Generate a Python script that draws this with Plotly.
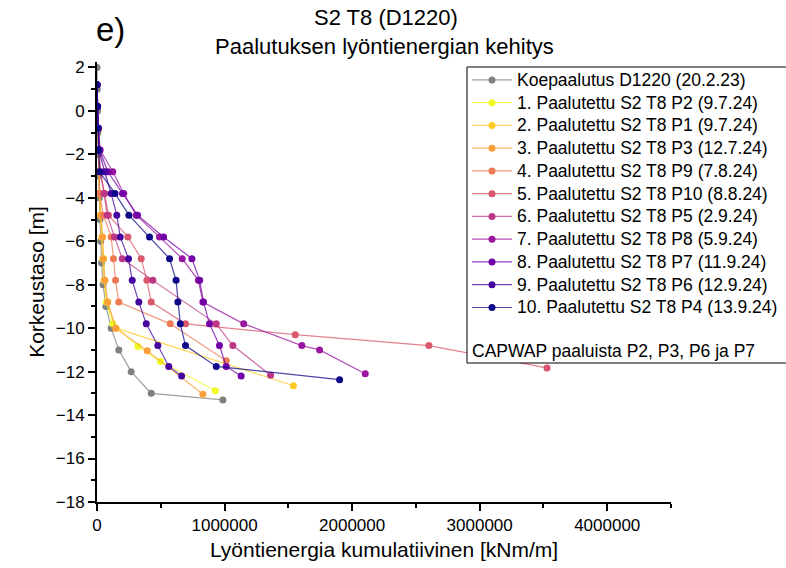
import plotly.graph_objects as go

# ---------------- data (energy in kNm/m, depth in m) ----------------
names = [
    "Koepaalutus D1220 (20.2.23)",
    "1. Paalutettu S2 T8 P2 (9.7.24)",
    "2. Paalutettu S2 T8 P1 (9.7.24)",
    "3. Paalutettu S2 T8 P3 (12.7.24)",
    "4. Paalutettu S2 T8 P9 (7.8.24)",
    "5. Paalutettu S2 T8 P10 (8.8.24)",
    "6. Paalutettu S2 T8 P5 (2.9.24)",
    "7. Paalutettu S2 T8 P8 (5.9.24)",
    "8. Paalutettu S2 T8 P7 (11.9.24)",
    "9. Paalutettu S2 T8 P6 (12.9.24)",
    "10. Paalutettu S2 T8 P4 (13.9.24)",
]
colors = ["#808080", "#f0f921", "#fcca27", "#fa9f3a", "#ed7a52", "#d9586b",
          "#bc3686", "#9b169f", "#7201a8", "#4603a0", "#0d0887"]

koe_depth = [2, 1, 0, -1, -2, -3, -4, -5, -6, -7, -8, -9, -10, -11, -12, -13, -13.3]
koe_energy = [0, 2000, 4000, 7000, 10000, 14000, 18000, 23000, 29000, 36000, 48000, 70000,
              111000, 171000, 268000, 425000, 987000]

p2_depth = [1.2, 0.2, -0.8, -1.8, -2.8, -3.8, -4.8, -5.8, -6.8, -7.8, -8.8, -9.8, -10.84, -11.53, -12.88]
p2_energy = [0, 3000, 6000, 10000, 15000, 20000, 28000, 42000, 52000, 60000, 72000, 124000,
             321000, 498000, 927000]

p1_depth = [1.2, 0.2, -0.8, -1.8, -2.8, -3.8, -4.8, -5.8, -6.8, -7.8, -8.8, -10.0, -12.65]
p1_energy = [0, 3000, 6000, 10000, 14000, 20000, 26000, 38000, 45000, 55000, 80000, 150000, 1540000]

p3_depth = [1.2, 0.2, -0.8, -1.8, -2.8, -3.8, -4.8, -5.8, -6.8, -7.8, -8.8, -10.0, -11.04, -13.04]
p3_energy = [0, 4000, 8000, 12000, 16000, 22000, 30000, 44000, 50000, 62000, 85000, 146000,
             394000, 830000]

p9_depth = [1.2, 0.2, -0.8, -1.8, -2.8, -3.8, -4.8, -5.8, -6.8, -7.8, -8.8, -9.8, -11.5]
p9_energy = [0, 3000, 6000, 10000, 12000, 20000, 50000, 111000, 129000, 145000, 171000, 574000, 1013000]

p10_depth = [1.2, 0.2, -0.8, -1.8, -2.8, -3.8, -4.8, -5.8, -6.8, -7.8, -8.8, -9.8, -10.3, -10.8, -11.83]
p10_energy = [0, 4000, 8000, 12000, 20000, 60000, 90000, 242000, 347000, 391000, 425000, 694000,
              1554000, 2602000, 3528000]

p5_depth = [1.2, 0.2, -0.8, -1.8, -2.8, -3.8, -4.8, -5.8, -6.8, -7.8, -9.8, -10.8, -12.17]
p5_energy = [0, 4000, 8000, 15000, 30000, 55000, 80000, 137000, 198000, 438000, 935000, 1065000, 1361000]

p8_depth = [1.2, 0.2, -0.8, -1.8, -2.8, -3.8, -4.8, -5.8, -6.8, -7.8, -8.8, -9.8, -10.8, -11.0, -12.1]
p8_energy = [0, 5000, 12000, 25000, 124000, 210000, 307000, 490000, 668000, 795000, 830000,
             1150000, 1606000, 1745000, 2103000]

p7_depth = [1.2, 0.2, -0.8, -1.8, -2.8, -3.8, -4.8, -5.8, -6.8, -7.8, -8.8, -9.8, -10.8, -11.76, -12.2]
p7_energy = [0, 4000, 10000, 20000, 85000, 200000, 318000, 522000, 744000, 805000, 835000,
             882000, 960000, 1013000, 1130000]

p6_depth = [1.2, 0.2, -0.8, -1.8, -2.8, -3.8, -4.8, -5.8, -6.8, -7.8, -8.8, -9.8, -10.8, -11.76, -12.2]
p6_energy = [0, 4000, 8000, 15000, 60000, 111000, 155000, 182000, 247000, 276000, 328000,
             386000, 477000, 563000, 663000]

p4_depth = [1.2, 0.2, -0.8, -1.8, -2.8, -3.8, -4.8, -5.8, -6.8, -7.8, -8.8, -9.8, -10.8, -11.76, -12.37]
p4_energy = [0, 3000, 6000, 12000, 20000, 141000, 250000, 412000, 569000, 620000, 634000,
             653000, 694000, 935000, 1902000]

depths = [koe_depth, p2_depth, p1_depth, p3_depth, p9_depth, p10_depth, p5_depth,
          p8_depth, p7_depth, p6_depth, p4_depth]
energies = [koe_energy, p2_energy, p1_energy, p3_energy, p9_energy, p10_energy, p5_energy,
            p8_energy, p7_energy, p6_energy, p4_energy]

note_text = "CAPWAP paaluista P2, P3, P6 ja P7"
title_line1 = "S2 T8 (D1220)"
title_line2 = "Paalutuksen lyöntienergian kehitys"
panel_label = "e)"
x_title = "Lyöntienergia kumulatiivinen [kNm/m]"
y_title = "Korkeustaso [m]"

FONT = "Liberation Sans, Arial, sans-serif"


def rgba(hex_color, a):
    h = hex_color.lstrip("#")
    r, g, b = int(h[0:2], 16), int(h[2:4], 16), int(h[4:6], 16)
    return f"rgba({r},{g},{b},{a})"


fig = go.Figure()
for nm, d, e, c in zip(names, depths, energies, colors):
    fig.add_trace(go.Scatter(
        x=e, y=d, mode="lines+markers",
        name=f'<span style="font-size:17.5px">{nm}</span>',
        line=dict(color=rgba(c, 0.75), width=1.2),
        marker=dict(color=c, size=7),
    ))

# plot area geometry helpers (paper coords)
L, R, T, B = 97, 115, 62, 66
W, H = 786, 568
pw, ph = W - L - R, H - T - B


def px2x(px):
    return (px - L) / pw


def px2y(py):
    return (H - B - py) / ph


def text_ann(text, x, y, size, xanchor="center"):
    return dict(text=text, xref="paper", yref="paper", x=px2x(x), y=px2y(y),
                xanchor=xanchor, yanchor="middle", showarrow=False,
                font=dict(size=size, family=FONT, color="black"))


fig.update_layout(
    width=W, height=H,
    margin=dict(l=L, r=R, t=T, b=B, autoexpand=False),
    paper_bgcolor="white", plot_bgcolor="white",
    font=dict(family=FONT, color="black", size=17),
    showlegend=True,
    legend=dict(x=px2x(467), y=px2y(63.5), xanchor="left", yanchor="top",
                xref="paper", yref="paper",
                bgcolor="rgba(0,0,0,0)", borderwidth=0,
                font=dict(size=15.2, family=FONT, color="black"),
                itemwidth=40, tracegroupgap=0),
    shapes=[dict(type="rect", xref="paper", yref="paper",
                 x0=px2x(467), x1=px2x(792), y0=px2y(363), y1=px2y(67),
                 line=dict(color="black", width=1), fillcolor="white", layer="above")],
    annotations=[
        text_ann(title_line1, 386, 18, 22),
        text_ann(title_line2, 384, 47, 22),
        text_ann(note_text, 470, 351, 17.5, xanchor="left"),
        text_ann(panel_label, 110, 30, 33),
    ],
)

fig.update_xaxes(
    range=[0, 4500000], tick0=0, dtick=1000000, tickformat="d", automargin=False,
    showline=True, linecolor="black", linewidth=2, mirror=False,
    ticks="outside", ticklen=7, tickwidth=2, tickcolor="black",
    minor=dict(dtick=500000, ticks="outside", ticklen=4, tickwidth=2, tickcolor="black"),
    showgrid=False, zeroline=False,
    tickfont=dict(size=17, family=FONT, color="black"),
    title=dict(text=x_title, font=dict(size=21, family=FONT, color="black"), standoff=8),
)
fig.update_yaxes(
    range=[-18, 2.25], tick0=0, dtick=2, automargin=False,
    showline=True, linecolor="black", linewidth=2, mirror=False,
    ticks="outside", ticklen=7, tickwidth=2, tickcolor="black",
    minor=dict(dtick=1, ticks="outside", ticklen=4, tickwidth=2, tickcolor="black"),
    showgrid=False, zeroline=False,
    tickfont=dict(size=17, family=FONT, color="black"),
    title=dict(text=y_title, font=dict(size=21, family=FONT, color="black"), standoff=5),
)

fig.write_html(
    "out.html",
    config={"displayModeBar": False},
    post_script="document.documentElement.style.margin='0';"
                "document.body.style.margin='0';document.body.style.overflow='hidden';",
)
